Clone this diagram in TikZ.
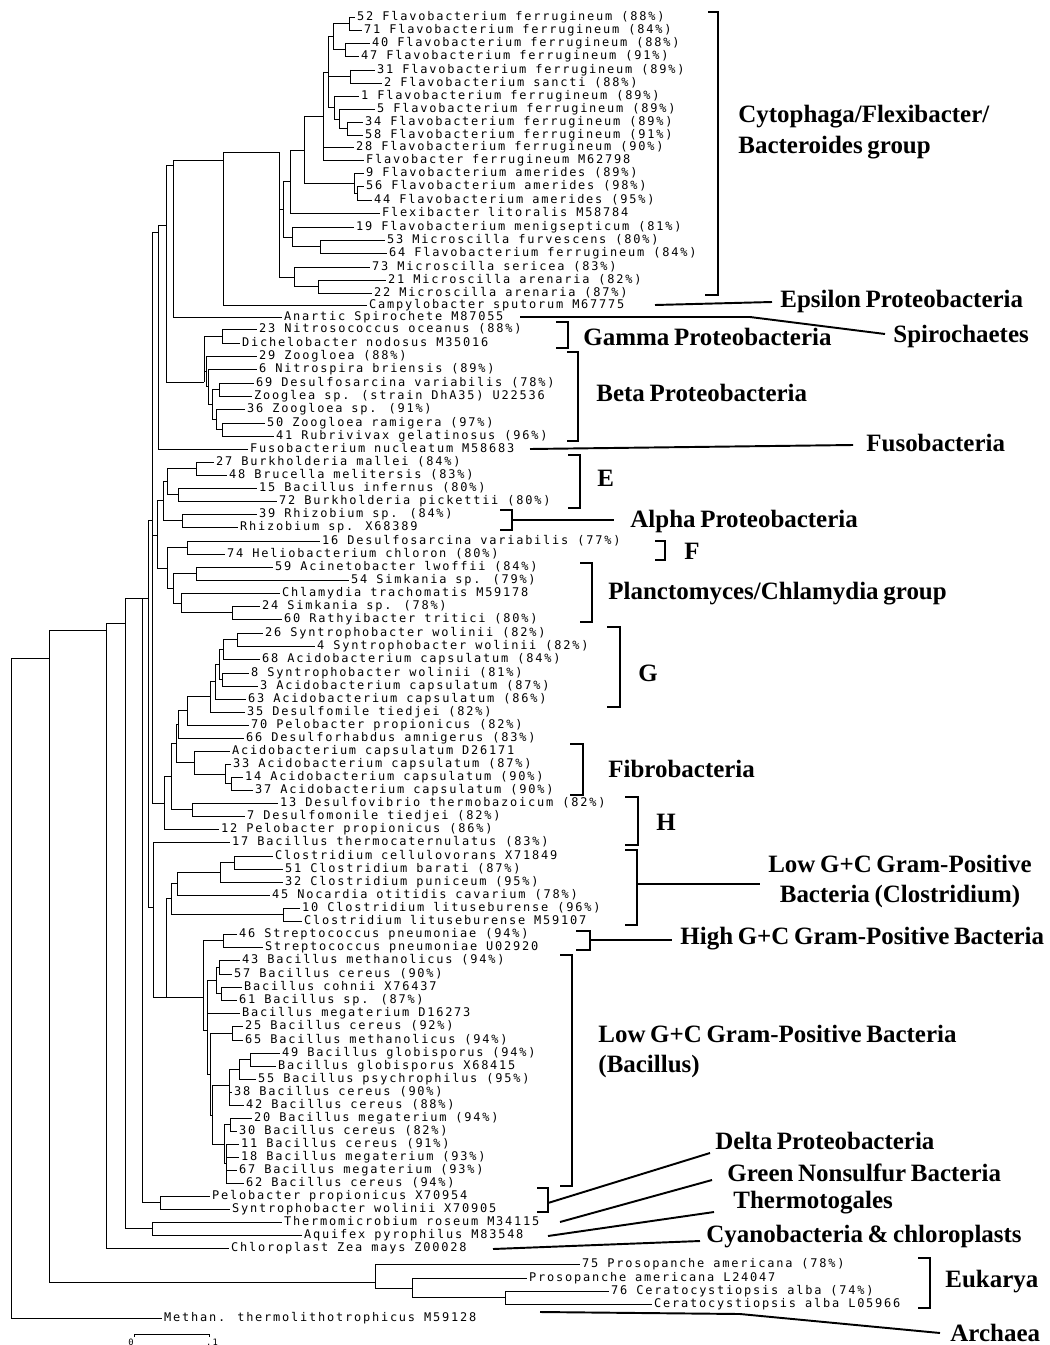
\documentclass[tikz,border=0pt]{standalone}
\usepackage{fontspec}
\usepackage{tikz}
\newfontfamily\leafmono[LetterSpace=15]{DejaVu Sans Mono}
\newfontfamily\grouprm[WordSpace=0.75]{Liberation Serif}
\newcommand\leaffont{\leafmono\fontsize{6.8}{8}\selectfont}
\newcommand\groupfont{\grouprm\bfseries\fontsize{14.2}{17.6}\selectfont}

\begin{document}
\begin{tikzpicture}[x=0.02cm,y=-0.02cm,line width=0.5pt,
  leaf/.style={anchor=west,inner sep=1pt,font=\leaffont,text height=5pt,text depth=1.2pt},
  group/.style={anchor=west,inner sep=0pt,font=\groupfont},
  bracket/.style={line width=1.5pt},
  leader/.style={line width=1.1pt}]
\useasboundingbox (0,0) rectangle (1050,1345);

% leaves
\node[leaf] (t1) at (355,17) {52 Flavobacterium ferrugineum (88\%)};
\draw (349,17) -- (t1.west);
\node[leaf] (t2) at (362,30) {71 Flavobacterium ferrugineum (84\%)};
\draw (349,30) -- (t2.west);
\node[leaf] (t3) at (370,43) {40 Flavobacterium ferrugineum (88\%)};
\draw (345,43) -- (t3.west);
\node[leaf] (t4) at (359,56) {47 Flavobacterium ferrugineum (91\%)};
\draw (345,56) -- (t4.west);
\node[leaf] (t5) at (375,70) {31 Flavobacterium ferrugineum (89\%)};
\draw (350,70) -- (t5.west);
\node[leaf] (t6) at (382,83) {2 Flavobacterium sancti (88\%)};
\draw (350,83) -- (t6.west);
\node[leaf] (t7) at (359,96) {1 Flavobacterium ferrugineum (89\%)};
\draw (334,96) -- (t7.west);
\node[leaf] (t8) at (375,109) {5 Flavobacterium ferrugineum (89\%)};
\draw (339,109) -- (t8.west);
\node[leaf] (t9) at (363,122) {34 Flavobacterium ferrugineum (89\%)};
\draw (347,122) -- (t9.west);
\node[leaf] (t10) at (363,135) {58 Flavobacterium ferrugineum (91\%)};
\draw (347,135) -- (t10.west);
\node[leaf] (t11) at (354,147) {28 Flavobacterium ferrugineum (90\%)};
\draw (323,147) -- (t11.west);
\node[leaf] (t12) at (364,160) {Flavobacter ferrugineum M62798};
\draw (323,160) -- (t12.west);
\node[leaf] (t13) at (364,173) {9 Flavobacterium amerides (89\%)};
\draw (354,173) -- (t13.west);
\node[leaf] (t14) at (364,186) {56 Flavobacterium amerides (98\%)};
\draw (357,186) -- (t14.west);
\node[leaf] (t15) at (372,200) {44 Flavobacterium amerides (95\%)};
\draw (357,200) -- (t15.west);
\node[leaf] (t16) at (380,213) {Flexibacter litoralis M58784};
\draw (290,213) -- (t16.west);
\node[leaf] (t17) at (354,227) {19 Flavobacterium menigsepticum (81\%)};
\draw (292,227) -- (t17.west);
\node[leaf] (t18) at (385,240) {53 Microscilla furvescens (80\%)};
\draw (320,240) -- (t18.west);
\node[leaf] (t19) at (387,253) {64 Flavobacterium ferrugineum (84\%)};
\draw (320,253) -- (t19.west);
\node[leaf] (t20) at (370,267) {73 Microscilla sericea (83\%)};
\draw (294,267) -- (t20.west);
\node[leaf] (t21) at (386,280) {21 Microscilla arenaria (82\%)};
\draw (318,280) -- (t21.west);
\node[leaf] (t22) at (372,293) {22 Microscilla arenaria (87\%)};
\draw (318,293) -- (t22.west);
\node[leaf] (t23) at (367,305) {Campylobacter sputorum M67775};
\draw (223,305) -- (t23.west);
\node[leaf] (t24) at (282,317) {Anartic Spirochete M87055};
\draw (173,317) -- (t24.west);
\node[leaf] (t25) at (257,329) {23 Nitrosococcus oceanus (88\%)};
\draw (222,329) -- (t25.west);
\node[leaf] (t26) at (240,343) {Dichelobacter nodosus M35016};
\draw (222,343) -- (t26.west);
\node[leaf] (t27) at (257,356) {29 Zoogloea (88\%)};
\draw (206,356) -- (t27.west);
\node[leaf] (t28) at (257,369) {6 Nitrospira briensis (89\%)};
\draw (208,369) -- (t28.west);
\node[leaf] (t29) at (254,383) {69 Desulfosarcina variabilis (78\%)};
\draw (219,383) -- (t29.west);
\node[leaf] (t30) at (252,396) {Zooglea sp. (strain DhA35) U22536};
\draw (219,396) -- (t30.west);
\node[leaf] (t31) at (245,409) {36 Zoogloea sp. (91\%)};
\draw (216,409) -- (t31.west);
\node[leaf] (t32) at (265,423) {50 Zoogloea ramigera (97\%)};
\draw (222,423) -- (t32.west);
\node[leaf] (t33) at (274,436) {41 Rubrivivax gelatinosus (96\%)};
\draw (222,436) -- (t33.west);
\node[leaf] (t34) at (248,449) {Fusobacterium nucleatum M58683};
\draw (158,449) -- (t34.west);
\node[leaf] (t35) at (214,462) {27 Burkholderia mallei (84\%)};
\draw (196,462) -- (t35.west);
\node[leaf] (t36) at (227,475) {48 Brucella melitersis (83\%)};
\draw (196,475) -- (t36.west);
\node[leaf] (t37) at (257,488) {15 Bacillus infernus (80\%)};
\draw (178,488) -- (t37.west);
\node[leaf] (t38) at (277,501) {72 Burkholderia pickettii (80\%)};
\draw (178,501) -- (t38.west);
\node[leaf] (t39) at (257,514) {39 Rhizobium sp. (84\%)};
\draw (182,514) -- (t39.west);
\node[leaf] (t40) at (238,527) {Rhizobium sp. X68389};
\draw (182,527) -- (t40.west);
\node[leaf] (t41) at (320,541) {16 Desulfosarcina variabilis (77\%)};
\draw (187,541) -- (t41.west);
\node[leaf] (t42) at (225,554) {74 Heliobacterium chloron (80\%)};
\draw (187,554) -- (t42.west);
\node[leaf] (t43) at (273,567) {59 Acinetobacter lwoffii (84\%)};
\draw (196,567) -- (t43.west);
\node[leaf] (t44) at (349,580) {54 Simkania sp. (79\%)};
\draw (196,580) -- (t44.west);
\node[leaf] (t45) at (280,593) {Chlamydia trachomatis M59178};
\draw (181,593) -- (t45.west);
\node[leaf] (t46) at (260,606) {24 Simkania sp. (78\%)};
\draw (232,606) -- (t46.west);
\node[leaf] (t47) at (282,619) {60 Rathyibacter tritici (80\%)};
\draw (232,619) -- (t47.west);
\node[leaf] (t48) at (263,633) {26 Syntrophobacter wolinii (82\%)};
\draw (237,633) -- (t48.west);
\node[leaf] (t49) at (315,646) {4 Syntrophobacter wolinii (82\%)};
\draw (237,646) -- (t49.west);
\node[leaf] (t50) at (260,659) {68 Acidobacterium capsulatum (84\%)};
\draw (223,659) -- (t50.west);
\node[leaf] (t51) at (249,673) {8 Syntrophobacter wolinii (81\%)};
\draw (222,673) -- (t51.west);
\node[leaf] (t52) at (258,686) {3 Acidobacterium capsulatum (87\%)};
\draw (222,686) -- (t52.west);
\node[leaf] (t53) at (246,699) {63 Acidobacterium capsulatum (86\%)};
\draw (215,699) -- (t53.west);
\node[leaf] (t54) at (245,712) {35 Desulfomile tiedjei (82\%)};
\draw (210,712) -- (t54.west);
\node[leaf] (t55) at (249,725) {70 Pelobacter propionicus (82\%)};
\draw (187,725) -- (t55.west);
\node[leaf] (t56) at (244,738) {66 Desulforhabdus amnigerus (83\%)};
\draw (178,738) -- (t56.west);
\node[leaf] (t57) at (230,751) {Acidobacterium capsulatum D26171};
\draw (194,751) -- (t57.west);
\node[leaf] (t58) at (231,764) {33 Acidobacterium capsulatum (87\%)};
\draw (225,764) -- (t58.west);
\node[leaf] (t59) at (243,777) {14 Acidobacterium capsulatum (90\%)};
\draw (231,777) -- (t59.west);
\node[leaf] (t60) at (253,790) {37 Acidobacterium capsulatum (90\%)};
\draw (231,790) -- (t60.west);
\node[leaf] (t61) at (278,803) {13 Desulfovibrio thermobazoicum (82\%)};
\draw (192,803) -- (t61.west);
\node[leaf] (t62) at (245,816) {7 Desulfomonile tiedjei (82\%)};
\draw (192,816) -- (t62.west);
\node[leaf] (t63) at (219,829) {12 Pelobacter propionicus (86\%)};
\draw (164,829) -- (t63.west);
\node[leaf] (t64) at (230,842) {17 Bacillus thermocaternulatus (83\%)};
\draw (153,842) -- (t64.west);
\node[leaf] (t65) at (273,856) {Clostridium cellulovorans X71849};
\draw (234,856) -- (t65.west);
\node[leaf] (t66) at (283,869) {51 Clostridium barati (87\%)};
\draw (234,869) -- (t66.west);
\node[leaf] (t67) at (283,882) {32 Clostridium puniceum (95\%)};
\draw (220,882) -- (t67.west);
\node[leaf] (t68) at (270,895) {45 Nocardia otitidis cavarium (78\%)};
\draw (177,895) -- (t68.west);
\node[leaf] (t69) at (300,908) {10 Clostridium lituseburense (96\%)};
\draw (283,908) -- (t69.west);
\node[leaf] (t70) at (302,921) {Clostridium lituseburense M59107};
\draw (283,921) -- (t70.west);
\node[leaf] (t71) at (237,934) {46 Streptococcus pneumoniae (94\%)};
\draw (223,934) -- (t71.west);
\node[leaf] (t72) at (263,947) {Streptococcus pneumoniae U02920};
\draw (223,947) -- (t72.west);
\node[leaf] (t73) at (240,960) {43 Bacillus methanolicus (94\%)};
\draw (219,960) -- (t73.west);
\node[leaf] (t74) at (232,974) {57 Bacillus cereus (90\%)};
\draw (219,974) -- (t74.west);
\node[leaf] (t75) at (242,987) {Bacillus cohnii X76437};
\draw (221,987) -- (t75.west);
\node[leaf] (t76) at (237,1000) {61 Bacillus sp. (87\%)};
\draw (221,1000) -- (t76.west);
\node[leaf] (t77) at (240,1013) {Bacillus megaterium D16273};
\draw (207,1013) -- (t77.west);
\node[leaf] (t78) at (243,1026) {25 Bacillus cereus (92\%)};
\draw (232,1026) -- (t78.west);
\node[leaf] (t79) at (243,1040) {65 Bacillus methanolicus (94\%)};
\draw (232,1040) -- (t79.west);
\node[leaf] (t80) at (280,1053) {49 Bacillus globisporus (94\%)};
\draw (250,1053) -- (t80.west);
\node[leaf] (t81) at (276,1066) {Bacillus globisporus X68415};
\draw (250,1066) -- (t81.west);
\node[leaf] (t82) at (256,1079) {55 Bacillus psychrophilus (95\%)};
\draw (239,1079) -- (t82.west);
\node[leaf] (t83) at (232,1092) {38 Bacillus cereus (90\%)};
\draw (229,1092) -- (t83.west);
\node[leaf] (t84) at (244,1105) {42 Bacillus cereus (88\%)};
\draw (229,1105) -- (t84.west);
\node[leaf] (t85) at (252,1118) {20 Bacillus megaterium (94\%)};
\draw (230,1118) -- (t85.west);
\node[leaf] (t86) at (237,1131) {30 Bacillus cereus (82\%)};
\draw (230,1131) -- (t86.west);
\node[leaf] (t87) at (239,1144) {11 Bacillus cereus (91\%)};
\draw (226,1144) -- (t87.west);
\node[leaf] (t88) at (239,1157) {18 Bacillus megaterium (93\%)};
\draw (226,1157) -- (t88.west);
\node[leaf] (t89) at (237,1170) {67 Bacillus megaterium (93\%)};
\draw (226,1170) -- (t89.west);
\node[leaf] (t90) at (244,1183) {62 Bacillus cereus (94\%)};
\draw (226,1183) -- (t90.west);
\node[leaf] (t91) at (210,1196) {Pelobacter propionicus X70954};
\draw (160,1196) -- (t91.west);
\node[leaf] (t92) at (230,1209) {Syntrophobacter wolinii X70905};
\draw (160,1209) -- (t92.west);
\node[leaf] (t93) at (282,1222) {Thermomicrobium roseum M34115};
\draw (152,1222) -- (t93.west);
\node[leaf] (t94) at (302,1235) {Aquifex pyrophilus M83548};
\draw (152,1235) -- (t94.west);
\node[leaf] (t95) at (229,1248) {Chloroplast Zea mays Z00028};
\draw (106,1248) -- (t95.west);
\node[leaf] (t96) at (580,1264) {75 Prosopanche americana (78\%)};
\draw (375,1264) -- (t96.west);
\node[leaf] (t97) at (527,1278) {Prosopanche americana L24047};
\draw (412,1278) -- (t97.west);
\node[leaf] (t98) at (609,1291) {76 Ceratocystiopsis alba (74\%)};
\draw (505,1291) -- (t98.west);
\node[leaf] (t99) at (652,1304) {Ceratocystiopsis alba L05966};
\draw (505,1304) -- (t99.west);
\node[leaf] (t100) at (162,1318) {Methan. thermolithotrophicus M59128};
\draw (11,1318) -- (t100.west);

% inner branches
\draw (333,23.5) -- (349,23.5) (349,17) -- (349,30);
\draw (333,49.5) -- (345,49.5) (345,43) -- (345,56);
\draw (328,36.5) -- (333,36.5) (333,23.5) -- (333,49.5);
\draw (328,76.5) -- (350,76.5) (350,70) -- (350,83);
\draw (339,128.5) -- (347,128.5) (347,122) -- (347,135);
\draw (334,119) -- (339,119) (339,109) -- (339,128.5);
\draw (328,107.5) -- (334,107.5) (334,96) -- (334,119);
\draw (323,72) -- (328,72) (328,36.5) -- (328,107.5);
\draw (304,116) -- (323,116) (323,72) -- (323,160);
\draw (354,193) -- (357,193) (357,186) -- (357,200);
\draw (304,183) -- (354,183) (354,173) -- (354,193);
\draw (290,150) -- (304,150) (304,116) -- (304,183);
\draw (283,181) -- (290,181) (290,150) -- (290,213);
\draw (292,246.5) -- (320,246.5) (320,240) -- (320,253);
\draw (283,237) -- (292,237) (292,227) -- (292,246.5);
\draw (279,209) -- (283,209) (283,181) -- (283,237);
\draw (294,286.5) -- (318,286.5) (318,280) -- (318,293);
\draw (279,277) -- (294,277) (294,267) -- (294,286.5);
\draw (223,152) -- (279,152) (279,152) -- (279,277);
\draw (173,160) -- (223,160) (223,152) -- (223,305);
\draw (166,165) -- (173,165) (173,160) -- (173,317);
\draw (204,336) -- (222,336) (222,329) -- (222,343);
\draw (212,389.5) -- (219,389.5) (219,383) -- (219,396);
\draw (216,429.5) -- (222,429.5) (222,423) -- (222,436);
\draw (212,419) -- (216,419) (216,409) -- (216,429.5);
\draw (208,404) -- (212,404) (212,389.5) -- (212,419);
\draw (206,386) -- (208,386) (208,369) -- (208,404);
\draw (204,371) -- (206,371) (206,356) -- (206,386);
\draw (166,382) -- (204,382) (204,336) -- (204,382);
\draw (158,225) -- (166,225) (166,165) -- (166,382);
\draw (152,232) -- (158,232) (158,225) -- (158,449);
\draw (167,468.5) -- (196,468.5) (196,462) -- (196,475);
\draw (167,494.5) -- (178,494.5) (178,488) -- (178,501);
\draw (163,481) -- (167,481) (167,468.5) -- (167,494.5);
\draw (163,520.5) -- (182,520.5) (182,514) -- (182,527);
\draw (157,500) -- (163,500) (163,481) -- (163,520.5);
\draw (167,547.5) -- (187,547.5) (187,541) -- (187,554);
\draw (173,573.5) -- (196,573.5) (196,567) -- (196,580);
\draw (181,612.5) -- (232,612.5) (232,606) -- (232,619);
\draw (173,603) -- (181,603) (181,593) -- (181,612.5);
\draw (167,588) -- (173,588) (173,573.5) -- (173,603);
\draw (157,568) -- (167,568) (167,547.5) -- (167,588);
\draw (152,535) -- (157,535) (157,500) -- (157,568);
\draw (223,639.5) -- (237,639.5) (237,633) -- (237,646);
\draw (219,649) -- (223,649) (223,639.5) -- (223,659);
\draw (219,679.5) -- (222,679.5) (222,673) -- (222,686);
\draw (215,664) -- (219,664) (219,649) -- (219,679.5);
\draw (210,681) -- (215,681) (215,664) -- (215,699);
\draw (187,696) -- (210,696) (210,681) -- (210,712);
\draw (178,710) -- (187,710) (187,696) -- (187,725);
\draw (176,724) -- (178,724) (178,710) -- (178,738);
\draw (225,783.5) -- (231,783.5) (231,777) -- (231,790);
\draw (194,774) -- (225,774) (225,764) -- (225,783.5);
\draw (176,762.5) -- (194,762.5) (194,751) -- (194,774);
\draw (171,743) -- (176,743) (176,724) -- (176,762.5);
\draw (171,809.5) -- (192,809.5) (192,803) -- (192,816);
\draw (164,776) -- (171,776) (171,743) -- (171,809.5);
\draw (152,803) -- (164,803) (164,776) -- (164,829);
\draw (148,520) -- (152,520) (152,232) -- (152,803);
\draw (220,862.5) -- (234,862.5) (234,856) -- (234,869);
\draw (177,872) -- (220,872) (220,862.5) -- (220,882);
\draw (171,883) -- (177,883) (177,872) -- (177,895);
\draw (171,914.5) -- (283,914.5) (283,908) -- (283,921);
\draw (166,898) -- (171,898) (171,883) -- (171,914.5);
\draw (203,940.5) -- (223,940.5) (223,934) -- (223,947);
\draw (216,967) -- (219,967) (219,960) -- (219,974);
\draw (216,993.5) -- (221,993.5) (221,987) -- (221,1000);
\draw (207,980) -- (216,980) (216,967) -- (216,993.5);
\draw (210,1033) -- (232,1033) (232,1026) -- (232,1040);
\draw (239,1059.5) -- (250,1059.5) (250,1053) -- (250,1066);
\draw (229,1069) -- (239,1069) (239,1059.5) -- (239,1079);
\draw (212,1085) -- (229,1085) (229,1069) -- (229,1105);
\draw (224,1124.5) -- (230,1124.5) (230,1118) -- (230,1131);
\draw (224,1163.5) -- (226,1163.5) (226,1144) -- (226,1183);
\draw (212,1144) -- (224,1144) (224,1124.5) -- (224,1163.5);
\draw (210,1115) -- (212,1115) (212,1085) -- (212,1144);
\draw (207,1074) -- (210,1074) (210,1033) -- (210,1115);
\draw (203,1030) -- (207,1030) (207,980) -- (207,1074);
\draw (166,997) -- (203,997) (203,940.5) -- (203,1030);
\draw (153,997) -- (166,997) (166,898) -- (166,997);
\draw (148,907) -- (153,907) (153,842) -- (153,997);
\draw (142,598) -- (148,598) (148,520) -- (148,907);
\draw (142,1202.5) -- (160,1202.5) (160,1196) -- (160,1209);
\draw (125,598) -- (142,598) (142,598) -- (142,1202.5);
\draw (125,1228.5) -- (152,1228.5) (152,1222) -- (152,1235);
\draw (106,623) -- (125,623) (125,598) -- (125,1228.5);
\draw (49,630) -- (106,630) (106,623) -- (106,1248);
\draw (412,1297.5) -- (505,1297.5) (505,1291) -- (505,1304);
\draw (375,1288) -- (412,1288) (412,1278) -- (412,1297.5);
\draw (49,1282) -- (375,1282) (375,1264) -- (375,1288);
\draw (11,658) -- (49,658) (49,630) -- (49,1282);
\draw (11,658) -- (11,1318);

% groups
\node[group,align=left] (cyto) at (738,132.5) {Cytophaga/Flexibacter/\\Bacteroides group};
\node[group] (epsilon) at (780,301) {Epsilon Proteobacteria};
\node[group] (spiro) at (893,336) {Spirochaetes};
\node[group] (gamma) at (583,337) {Gamma Proteobacteria};
\node[group] (beta) at (596,393) {Beta Proteobacteria};
\node[group] (fuso) at (866,443) {Fusobacteria};
\node[group] (grpE) at (597,478) {E};
\node[group] (alpha) at (630,521) {Alpha Proteobacteria};
\node[group] (grpF) at (684,551) {F};
\node[group] (plancto) at (608,594) {Planctomyces/Chlamydia group};
\node[group] (grpG) at (638,673) {G};
\node[group] (fibro) at (608,769) {Fibrobacteria};
\node[group] (grpH) at (656,822) {H};
\node[group,anchor=center,align=center] (clostr) at (900,881.5) {Low G+C Gram-Positive\\Bacteria (Clostridium)};
\node[group] (highgc) at (680,939) {High G+C Gram-Positive Bacteria};
\node[group,align=left] (bacil) at (598,1051.5) {Low G+C Gram-Positive Bacteria\\(Bacillus)};
\node[group] (delta) at (715,1141) {Delta Proteobacteria};
\node[group] (green) at (727,1173) {Green Nonsulfur Bacteria};
\node[group] (thermo) at (733,1203) {Thermotogales};
\node[group] (cyano) at (706,1237) {Cyanobacteria \& chloroplasts};
\node[group] (eukarya) at (945,1282) {Eukarya};
\node[group] (archaea) at (950,1333) {Archaea};

\draw[bracket] (708,12) -- (718,12) -- (718,295) -- (705,295);
\draw[bracket] (556,322) -- (568,322) -- (568,348) -- (556,348);
\draw[bracket] (567,352) -- (578,352) -- (578,441) -- (567,441);
\draw[bracket] (568,455) -- (580,455) -- (580,508) -- (568,508);
\draw[bracket] (500,510) -- (512,510) -- (512,530) -- (500,530);
\draw[bracket] (655,541) -- (665,541) -- (665,560) -- (655,560);
\draw[bracket] (580,563) -- (592,563) -- (592,622) -- (580,622);
\draw[bracket] (607,627) -- (620,627) -- (620,707) -- (607,707);
\draw[bracket] (570,744) -- (583,744) -- (583,795) -- (570,795);
\draw[bracket] (625,797) -- (638,797) -- (638,845) -- (625,845);
\draw[bracket] (625,850) -- (637,850) -- (637,925) -- (625,925);
\draw[bracket] (576,931) -- (590,931) -- (590,950) -- (576,950);
\draw[bracket] (560,955) -- (572,955) -- (572,1186) -- (560,1186);
\draw[bracket] (537,1188) -- (548,1188) -- (548,1212) -- (537,1212);
\draw[bracket] (918,1258) -- (930,1258) -- (930,1308) -- (918,1308);

\coordinate (eps0) at (655,305);
\coordinate (eps1) at (772,302);
\coordinate (spi0) at (520,317);
\coordinate (spi1) at (750,317);
\coordinate (spi2) at (885,334);
\coordinate (fus0) at (530,449);
\coordinate (fus1) at (853,445);
\coordinate (alp0) at (512,520);
\coordinate (alp1) at (614,520);
\coordinate (clo0) at (637,884);
\coordinate (clo1) at (760,884);
\coordinate (hgc0) at (590,940);
\coordinate (hgc1) at (672,940);
\coordinate (del0) at (548,1203);
\coordinate (del1) at (710,1153);
\coordinate (gre0) at (560,1222);
\coordinate (gre1) at (712,1180);
\coordinate (the0) at (548,1236);
\coordinate (the1) at (714,1212);
\coordinate (cya0) at (493,1249);
\coordinate (cya1) at (700,1241);
\coordinate (arc0) at (540,1312);
\coordinate (arc1) at (740,1314);
\coordinate (arc2) at (940,1333);
\draw[leader] (eps0) -- (eps1);
\draw[leader] (spi0) -- (spi1) -- (spi2);
\draw[leader] (fus0) -- (fus1);
\draw[leader] (alp0) -- (alp1);
\draw[leader] (clo0) -- (clo1);
\draw[leader] (hgc0) -- (hgc1);
\draw[leader] (del0) -- (del1);
\draw[leader] (gre0) -- (gre1);
\draw[leader] (the0) -- (the1);
\draw[leader] (cya0) -- (cya1);
\draw[leader] (arc0) -- (arc1) -- (arc2);

% scale
\draw (134,1337) -- (134,1334) -- (209,1334) -- (209,1337);
\node[font=\leafmono\fontsize{5}{6}\selectfont,inner sep=0pt] (bar0) at (131,1342) {0};
\node[font=\leafmono\fontsize{5}{6}\selectfont,inner sep=0pt] (bar1) at (212,1342) {.1};
\end{tikzpicture}
\end{document}
